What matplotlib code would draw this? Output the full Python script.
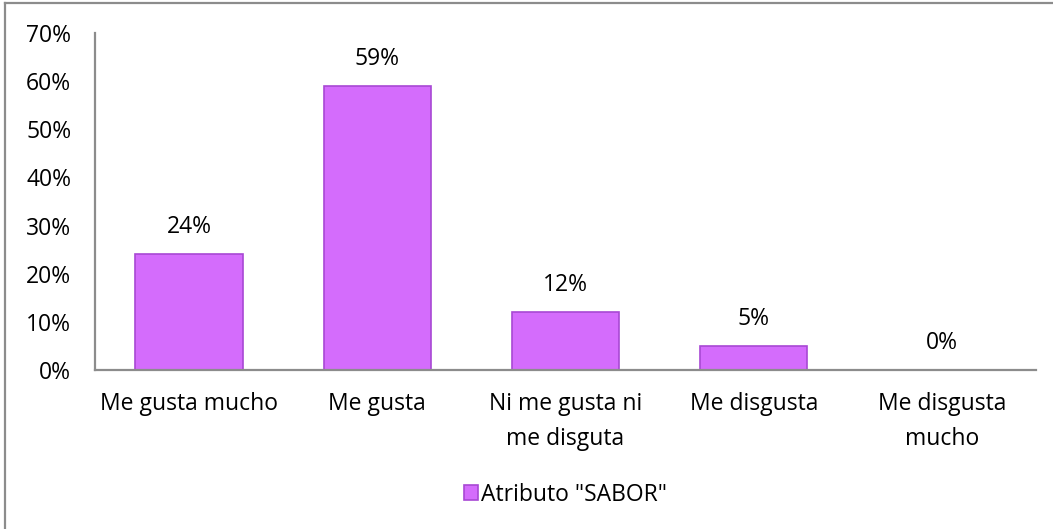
import matplotlib
matplotlib.use("Agg")
import matplotlib.pyplot as plt
from matplotlib.lines import Line2D

# Datos de la encuesta: atributo sabor
categorias = ["Me gusta mucho", "Me gusta", "Ni me gusta ni\nme disguta",
              "Me disgusta", "Me disgusta\nmucho"]
valores = [24, 59, 12, 5, 0]
etiquetas = ["24%", "59%", "12%", "5%", "0%"]
yticks = [0, 10, 20, 30, 40, 50, 60, 70]

plt.rcParams['font.family'] = ['Open Sans', 'DejaVu Sans']
fs = 16.5

fig = plt.figure(figsize=(10.53, 5.29), dpi=100)
ax = fig.add_axes([0.0902, 0.3006, 0.8937, 0.637])

x = list(range(len(categorias)))
bars = ax.bar(x, valores, width=0.57, color='#d46cfc', edgecolor='#a848d4',
              linewidth=1.2, label='Atributo "SABOR"', zorder=2)

for xi, v, t in zip(x, valores, etiquetas):
    ax.annotate(t, (xi, v), xytext=(0, 11), textcoords='offset points',
                ha='center', va='bottom', fontsize=fs)

ax.set_xlim(-0.5, len(categorias) - 0.5)
ax.set_ylim(0, 70)
ax.set_yticks(yticks)
ax.set_yticklabels([f"{t}%" for t in yticks])
ax.set_xticks(x)
ax.set_xticklabels(categorias, fontsize=fs, linespacing=1.6)
ax.tick_params(axis='y', length=0, pad=17, labelsize=fs)
ax.tick_params(axis='x', length=0, pad=16)

for s in ['top', 'right']:
    ax.spines[s].set_visible(False)
for s in ['left', 'bottom']:
    ax.spines[s].set_color('#8c8c8c')
    ax.spines[s].set_linewidth(1.6)

# leyenda
ax.legend(loc='center', bbox_to_anchor=(0.5, -0.37), frameon=False,
          fontsize=fs, handlelength=0.6, handleheight=0.6, handletextpad=0.1)

# marco exterior del grafico
fig.add_artist(Line2D([0.0052, 0.0052], [0, 0.995], color='#8c8c8c',
                      linewidth=1.6, transform=fig.transFigure))
fig.add_artist(Line2D([0.0052, 1.0], [0.995, 0.995], color='#8c8c8c',
                      linewidth=1.6, transform=fig.transFigure))

fig.savefig("out.png", dpi=100)
